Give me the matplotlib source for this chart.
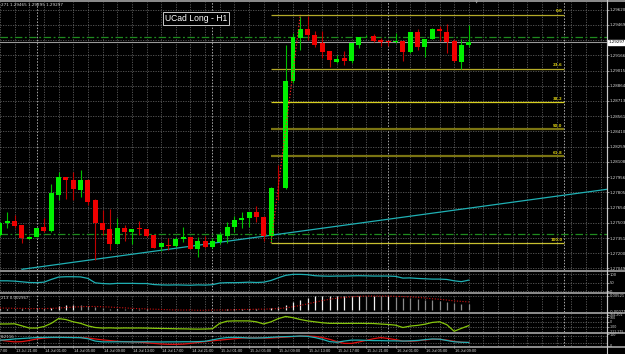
import matplotlib
matplotlib.use("Agg")
import matplotlib.pyplot as plt
from matplotlib.lines import Line2D
from matplotlib.transforms import blended_transform_factory as btf

# ---------------- data ----------------
bars = list(range(-2, 63))  # hourly bars, 0 = 13 Jul 21:00
opens = [1.27382, 1.27499, 1.27522, 1.27482, 1.27342, 1.27365, 1.27459, 1.27425, 1.27780, 1.27956,
         1.27930, 1.27830, 1.27930, 1.27731, 1.27499, 1.27442, 1.27293, 1.27449, 1.27409, 1.27449,
         1.27442, 1.27382, 1.27266, 1.27283, 1.27273, 1.27339, 1.27359, 1.27240, 1.27326, 1.27263,
         1.27316, 1.27372, 1.27465, 1.27531, 1.27548, 1.27608, 1.27564, 1.27372, 1.27853, 1.27847,
         1.28915, 1.29339, 1.29429, 1.29365, 1.29290, 1.29206, 1.29097, 1.29140, 1.29114, 1.29273,
         1.29355, 1.29355, 1.29316, 1.29306, 1.29300, 1.29306, 1.29196, 1.29399, 1.29246, 1.29332,
         1.29432, 1.29399, 1.29306, 1.29097, 1.29271]
highs = [1.27512, 1.27614, 1.27581, 1.27485, 1.27368, 1.27452, 1.27548, 1.27887, 1.28012, 1.27960,
         1.28012, 1.28029, 1.27933, 1.27735, 1.27631, 1.27638, 1.27548, 1.27482, 1.27445, 1.27522,
         1.27445, 1.27385, 1.27303, 1.27349, 1.27359, 1.27465, 1.27362, 1.27365, 1.27372, 1.27349,
         1.27415, 1.27515, 1.27571, 1.27614, 1.27614, 1.27671, 1.27567, 1.27856, 1.28079, 1.29273,
         1.29392, 1.29561, 1.29554, 1.29405, 1.29405, 1.29209, 1.29173, 1.29206, 1.29293, 1.29352,
         1.29372, 1.29379, 1.29339, 1.29323, 1.29389, 1.29309, 1.29402, 1.29429, 1.29332, 1.29439,
         1.29455, 1.29482, 1.29329, 1.29329, 1.29465]
lows = [1.27372, 1.27449, 1.27449, 1.27306, 1.27338, 1.27362, 1.27415, 1.27415, 1.27731, 1.27737,
        1.27731, 1.27763, 1.27681, 1.27134, 1.27382, 1.27233, 1.27290, 1.27326, 1.27293, 1.27382,
        1.27359, 1.27253, 1.27226, 1.27233, 1.27266, 1.27316, 1.27240, 1.27166, 1.27250, 1.27250,
        1.27293, 1.27300, 1.27415, 1.27449, 1.27465, 1.27515, 1.27326, 1.27300, 1.27731, 1.27840,
        1.28895, 1.29223, 1.29323, 1.29246, 1.29140, 1.29047, 1.29091, 1.29074, 1.29091, 1.29240,
        1.29348, 1.29296, 1.29256, 1.29256, 1.29290, 1.29107, 1.29193, 1.29223, 1.29150, 1.29329,
        1.29313, 1.29190, 1.29104, 1.29034, 1.29246]
closes = [1.27499, 1.27522, 1.27475, 1.27349, 1.27365, 1.27449, 1.27425, 1.27797, 1.27962, 1.27930,
          1.27837, 1.27930, 1.27714, 1.27505, 1.27432, 1.27293, 1.27449, 1.27415, 1.27442, 1.27439,
          1.27375, 1.27256, 1.27300, 1.27273, 1.27342, 1.27359, 1.27243, 1.27326, 1.27260, 1.27326,
          1.27382, 1.27459, 1.27531, 1.27548, 1.27608, 1.27564, 1.27372, 1.27853, 1.27845, 1.28915,
          1.29345, 1.29429, 1.29365, 1.29273, 1.29196, 1.29124, 1.29130, 1.29114, 1.29290, 1.29349,
          1.29362, 1.29313, 1.29300, 1.29296, 1.29303, 1.29196, 1.29399, 1.29246, 1.29329, 1.29429,
          1.29405, 1.29300, 1.29107, 1.29266, 1.29297]

price_ticks = [1.29620, 1.29469, 1.29317, 1.29166, 1.29015, 1.28864, 1.28713, 1.28561, 1.28410,
               1.28259, 1.28108, 1.27956, 1.27805, 1.27654, 1.27503, 1.27351, 1.27200, 1.27049]
current_price = 1.29297
header_text = "271 1.29465 1.29295 1.29297"
title_text = "UCad Long - H1"

fib_high, fib_low = 1.29570, 1.27300
fib_bars = (35, 75)
fib_anchor_bars = (35, 39)
fib_levels = [0.0, 23.6, 38.2, 50.0, 61.8, 100.0]
fib_colors = ["#b4aa28", "#b4aa28", "#d8d020", "#7a7412", "#7a7412", "#c8c030"]
fib_widths = [0.9, 0.9, 0.9, 1.6, 1.6, 0.9]

trend_bars = [1.0, 81.0]
trend_prices = [1.27041, 1.27837]
hline_levels = [1.29345, 1.27390]
period_sep_bars = [3, 27, 51, 75]

time_label_bars = [-4, 0, 4, 8, 12, 16, 20, 24, 28, 32, 36, 40, 44, 48, 52, 56, 60]
time_labels = ["13 Jul 17:00", "13 Jul 21:00", "14 Jul 01:00", "14 Jul 05:00", "14 Jul 09:00",
               "14 Jul 13:00", "14 Jul 17:00", "14 Jul 21:00", "15 Jul 01:00", "15 Jul 05:00",
               "15 Jul 09:00", "15 Jul 13:00", "15 Jul 17:00", "15 Jul 21:00", "16 Jul 01:00",
               "16 Jul 05:00", "16 Jul 09:00"]

osc1 = [60, 60, 58, 54, 50, 49, 52, 68, 82, 84, 84, 83, 74, 48, 44, 42, 45, 45, 45, 44,
        44, 38, 36, 35, 36, 35, 34, 36, 35, 37, 47, 49, 49, 50, 52, 50, 52, 62, 78, 92,
        98, 98, 96, 90, 88, 87, 88, 88, 89, 90, 89, 88, 88, 88, 86, 76, 77, 74, 72, 70,
        70, 68, 60, 55, 64]
osc1_ticks = [100, 50, 0]
macd_hist = [0.0003, 0.0004, 0.0002, 0.0003, 0.0001, 0.0002, 0.0003, 0.0008, 0.0014, 0.0016,
             0.0017, 0.0016, 0.0014, 0.0010, 0.0006, 0.0003, 0.0003, 0.0002, 0.0002, 0.0001,
             0.0001, -0.0001, -0.0002, -0.0002, -0.0002, -0.0001, -0.0002, -0.0002, -0.0002, -0.0001,
             0.0000, 0.0001, 0.0002, 0.0003, 0.0004, 0.0004, 0.0003, 0.0006, 0.0010, 0.0019,
             0.0029, 0.0038, 0.0045, 0.0050, 0.0051, 0.0052, 0.0052, 0.0052, 0.0052, 0.0052,
             0.0051, 0.0051, 0.0050, 0.0050, 0.0049, 0.0045, 0.0043, 0.0040, 0.0037, 0.0036,
             0.0034, 0.0030, 0.0026, 0.0023, 0.0022]
macd_signal = [0.0006, 0.0006, 0.0005, 0.0005, 0.0004, 0.0004, 0.0004, 0.0005, 0.0006, 0.0008,
               0.0010, 0.0011, 0.0012, 0.0012, 0.0011, 0.0010, 0.0008, 0.0007, 0.0005, 0.0004,
               0.0003, 0.0002, 0.0001, 0.0000, -0.0001, -0.0001, -0.0001, -0.0002, -0.0002, -0.0001,
               -0.0001, -0.0001, 0.0000, 0.0001, 0.0001, 0.0002, 0.0002, 0.0003, 0.0004, 0.0007,
               0.0011, 0.0016, 0.0022, 0.0028, 0.0034, 0.0039, 0.0043, 0.0046, 0.0048, 0.0050,
               0.0051, 0.0051, 0.0051, 0.0051, 0.0050, 0.0049, 0.0048, 0.0046, 0.0044, 0.0041,
               0.0039, 0.0036, 0.0033, 0.0031, 0.0029]
macd_ticks = [0.00521, -0.00077]
macd_header = "213 0.002967"
cci = [-44, -44, -40, -86, -134, -134, -101, -30, 75, 54, 4, -30, -86, -122, -134, -130, -136,
       -132, -134, -133, -135, -140, -143, -146, -150, -152, -155, -158, -155, -150, -30, 18, 24,
       24, 24, 4, -44, 4, 75, 122, 95, 55, 24, 4, -17, -30, -30, -32, -30, -30, -32, -34, -45,
       -55, -70, -122, -90, -75, -50, -10, 5, -60, -205, -140, -80]
cci_ticks = [164.201, 100, 0, -100, -211.175]
stoch_main = [48, 52, 58, 62, 66, 70, 71, 72, 72, 71, 70, 69, 60, 40, 33, 33, 34, 34, 33, 33,
              34, 33, 32, 33, 33, 34, 34, 35, 38, 50, 62, 70, 72, 70, 66, 66, 68, 72, 76, 78,
              80, 83, 80, 70, 55, 35, 30, 40, 48, 48, 46, 44, 44, 42, 42, 40, 42, 45, 52, 58,
              56, 45, 34, 30, 28]
stoch_signal = [48, 40, 33, 35, 45, 58, 66, 70, 71, 71, 71, 70, 66, 58, 50, 44, 38, 34, 33, 30,
                26, 20, 15, 12, 12, 14, 20, 28, 35, 42, 48, 54, 60, 66, 68, 68, 66, 66, 70, 74,
                78, 82, 83, 80, 70, 55, 35, 20, 20, 32, 46, 60, 70, 62, 52, 40, 38, 42, 50, 55,
                56, 48, 38, 30, 28]
stoch_ticks = [100, 0]
stoch_header = "8,2116"

# ---------------- layout (pixels) ----------------
W, H = 625, 354
fig = plt.figure(figsize=(W / 100, H / 100), dpi=100, facecolor="black")
XR = 607
XMIN = -2
XMAX = XR / 7.325 - 2
GRID_C = "#7c7c7c"
LAB_C = "#d8d8d8"


def add_ax(y0, y1, labelsize=2.9):
    ax = fig.add_axes([0, 1 - y1 / H, XR / W, (y1 - y0) / H], facecolor="black")
    ax.set_xlim(XMIN, XMAX)
    for s in ["left", "top", "bottom"]:
        ax.spines[s].set_visible(False)
    ax.spines["right"].set_color("#c8c8c8")
    ax.spines["right"].set_linewidth(0.8)
    ax.set_xticks([])
    ax.yaxis.tick_right()
    ax.tick_params(axis="y", colors="#c8c8c8", labelcolor=LAB_C, labelsize=labelsize,
                   length=1.2, width=0.5, pad=0.6)
    for gx in range(-2, 82, 2):
        ax.axvline(gx, color=GRID_C, lw=0.45, ls=(0, (2, 2)), zorder=0)
    for px in period_sep_bars:
        ax.axvline(px, color="#d0d0d0", lw=0.55, ls=(0, (2, 2)), zorder=0.5)
    return ax


# ---------------- main chart ----------------
ax = add_ax(1.5, 269.5)
ax.set_ylim(1.27039, 1.29701)
ax.set_yticks(price_ticks)
ax.set_yticklabels(["" if abs(p - current_price) < 0.0003 else f"{p:.5f}" for p in price_ticks])
for p in price_ticks:
    ax.axhline(p, color=GRID_C, lw=0.45, ls=(0, (2, 2)), zorder=0)

# objects
ax.axhline(current_price, color="#9a9a9a", lw=0.8, zorder=1)
for lv in hline_levels:
    ax.axhline(lv, color="#1f8a1f", lw=0.9, ls=(0, (6, 2, 1.5, 2)), zorder=1)
ax.plot(trend_bars, trend_prices, color="#1fb0b4", lw=0.9, zorder=1.5, clip_on=True)

rng = fib_high - fib_low
for lv, c, lw in zip(fib_levels, fib_colors, fib_widths):
    pr = fib_high - lv / 100 * rng
    ax.hlines(pr, fib_bars[0], fib_bars[1], color=c, lw=lw, zorder=1.2)
    ax.text(fib_bars[1] - 0.2, pr + 0.00012, f"{lv:.1f}", color="#d8cc10", fontsize=2.8,
            ha="right", va="bottom", fontweight="bold", zorder=3)

# candles
up_body, dn_body = "#00f000", "#f00000"
up_wick, dn_wick = "#00c000", "#c00000"
for b, o, h, l, c in zip(bars, opens, highs, lows, closes):
    up = c >= o
    ax.vlines(b, l, h, color=up_wick if up else dn_wick, lw=0.8, zorder=2)
    hgt = max(abs(c - o), 0.00008)
    ax.bar(b, hgt, bottom=min(o, c), width=0.68, color=up_body if up else dn_body,
           linewidth=0, zorder=2.2)

ax.plot(fib_anchor_bars, [fib_low, fib_high], color="#ff2020", lw=0.8,
        ls=(0, (1.2, 1.6)), zorder=2.5)

tr = btf(ax.transAxes, ax.transData)
ax.text(1.0 + 2 / XR, current_price, f"{current_price:.5f}", transform=tr, fontsize=2.9,
        color="black", ha="left", va="center",
        bbox=dict(facecolor="white", edgecolor="white", pad=0.4), clip_on=False)

fig.text(1 / W, 1 - 5.5 / H, header_text, color=LAB_C, fontsize=3.0, ha="left", va="center")
fig.text(196 / W, 1 - 18.5 / H, title_text, color="white", fontsize=6.2, ha="center",
         va="center", family="Liberation Sans",
         bbox=dict(facecolor="black", edgecolor="#c8c8c8", lw=0.7, pad=1.2))
fig.text(477 / W, 1 - 3 / H, "\u25bc", color="#a0a0a0", fontsize=3, ha="center", va="center")

# ---------------- sub window 1 ----------------
a1 = add_ax(272, 292.5, labelsize=2.7)
a1.set_ylim(-8.8, 111.8)
a1.set_yticks(osc1_ticks)
a1.set_yticklabels([str(v) for v in osc1_ticks])
for v in osc1_ticks:
    a1.axhline(v, color=GRID_C, lw=0.45, ls=(0, (2, 2)), zorder=0)
a1.plot(bars, osc1, color="#1fb0b4", lw=0.9)

# ---------------- sub window 2 ----------------
a2 = add_ax(294.5, 312.3, labelsize=2.6)
a2.set_ylim(-0.00097, 0.00568)
a2.set_yticks(macd_ticks)
a2.set_yticklabels([f"{v:.5f}" for v in macd_ticks])
a2.axhline(macd_ticks[0], color=GRID_C, lw=0.45, ls=(0, (2, 2)), zorder=0)
prev = macd_hist[0]
for b, v in zip(bars, macd_hist):
    a2.vlines(b, 0, v, color="#f0f0f0" if v >= prev else "#8a8a8a", lw=0.9)
    prev = v
a2.plot(bars, macd_signal, color="#d01010", lw=0.8, ls=(0, (1, 1.5)))
a2.text(0.002, 0.8, macd_header, transform=a2.transAxes, color=LAB_C, fontsize=2.8,
        ha="left", va="center")

# ---------------- sub window 3 ----------------
a3 = add_ax(314.3, 331.7, labelsize=2.3)
a3.set_ylim(-215, 170)
a3.set_yticks(cci_ticks)
a3.set_yticklabels(["164.201", "100", "0", "-100", "-211.175"])
for v in [100, 0, -100]:
    a3.axhline(v, color=GRID_C, lw=0.45, ls=(0, (2, 2)), zorder=0)
a3.plot(bars, cci, color="#86c60c", lw=0.9)

# ---------------- sub window 4 ----------------
a4 = add_ax(333.7, 346.2, labelsize=2.4)
a4.set_ylim(-4, 103)
a4.set_yticks(stoch_ticks)
a4.set_yticklabels([str(v) for v in stoch_ticks])
for v in [80, 20]:
    a4.axhline(v, color=GRID_C, lw=0.45, ls=(0, (2, 2)), zorder=0)
a4.plot(bars, stoch_signal, color="#e01010", lw=0.9)
a4.plot(bars, stoch_main, color="#1fb0b4", lw=0.9)
a4.text(0.002, 0.75, stoch_header, transform=a4.transAxes, color=LAB_C, fontsize=2.8,
        ha="left", va="center")

# ---------------- time axis ----------------
at = fig.add_axes([0, 0, XR / W, 7.6 / H], facecolor="black")
at.set_xlim(XMIN, XMAX)
at.set_ylim(0, 1)
at.axis("off")
for b, lab in zip(time_label_bars, time_labels):
    at.text(b + 0.15, 0.45, lab, color=LAB_C, fontsize=2.8, ha="left", va="center",
            family="Liberation Sans", clip_on=False)
    at.vlines(b, 0.75, 1.0, color="#c8c8c8", lw=0.5)

# separators and borders
for yy in [0.6, 270.6, 293.4, 313.3, 332.7, 346.8]:
    fig.add_artist(Line2D([0, 1], [1 - yy / H] * 2, color="#b4b4b4", lw=1.1))
fig.add_artist(Line2D([XR / W] * 2, [0, 1], color="#c8c8c8", lw=0.8))

fig.savefig("out.png", dpi=100, facecolor="black")
